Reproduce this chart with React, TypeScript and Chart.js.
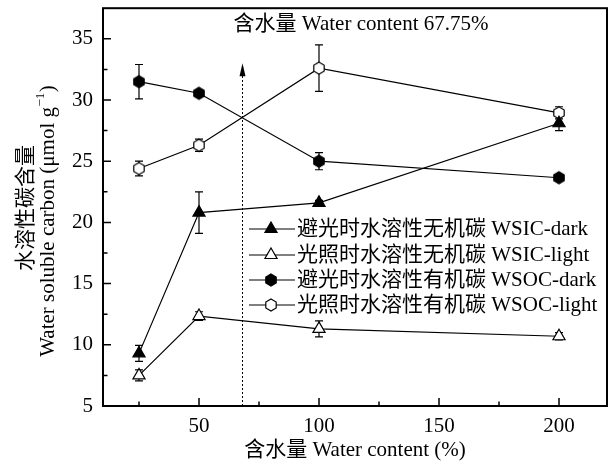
import React, { useEffect, useRef } from 'react';
import { Chart, registerables } from 'chart.js';

Chart.register(...registerables);

// ---------- data ----------
const waterContent = [25, 50, 100, 200];
const wsicDark = [9.3, 20.8, 21.6, 28.1];
const wsicDarkErr = [0.65, 1.7, 0.2, 0.6];
const wsicLight = [7.5, 12.35, 11.3, 10.7];
const wsicLightErr = [0.45, 0.35, 0.65, 0.3];
const wsocDark = [31.5, 30.55, 25.0, 23.65];
const wsocDarkErr = [1.4, 0.15, 0.7, 0.1];
const wsocLight = [24.4, 26.3, 32.6, 28.95];
const wsocLightErr = [0.6, 0.5, 1.9, 0.5];

const seriesLabels = [
  '避光时水溶性无机碳 WSIC-dark',
  '光照时水溶性无机碳 WSIC-light',
  '避光时水溶性有机碳 WSOC-dark',
  '光照时水溶性有机碳 WSOC-light',
];

const xTicks = [50, 100, 150, 200];
const xMinorTicks = [25, 75, 125, 175];
const yTicks = [5, 10, 15, 20, 25, 30, 35];
const yMinorTicks = [7.5, 12.5, 17.5, 22.5, 27.5, 32.5];

const markerWater = 67.75;
const arrowTipValue = 33.0;
const annotationText = '含水量 Water content 67.75%';
const xTitle = '含水量 Water content (%)';
const yTitleCn = '水溶性碳含量';
const yTitleEn = 'Water soluble carbon (μmol g';

const FONT = '"Liberation Serif", "Times New Roman", "Noto Sans CJK SC", serif';

function hexCanvas(r: number, filled: boolean): HTMLCanvasElement {
  const size = Math.ceil(2 * r + 4);
  const c = document.createElement('canvas');
  c.width = size;
  c.height = size;
  const ctx = c.getContext('2d')!;
  ctx.translate(size / 2, size / 2);
  ctx.beginPath();
  for (let i = 0; i < 6; i++) {
    const a = -Math.PI / 2 + (i * Math.PI) / 3;
    const px = r * Math.cos(a);
    const py = r * Math.sin(a);
    if (i === 0) ctx.moveTo(px, py);
    else ctx.lineTo(px, py);
  }
  ctx.closePath();
  ctx.fillStyle = filled ? '#000' : '#fff';
  ctx.fill();
  ctx.lineWidth = 1.2;
  ctx.strokeStyle = '#000';
  ctx.stroke();
  return c;
}

function drawTriangle(ctx: CanvasRenderingContext2D, x: number, y: number, r: number, filled: boolean) {
  ctx.beginPath();
  for (let i = 0; i < 3; i++) {
    const a = -Math.PI / 2 + (i * 2 * Math.PI) / 3;
    const px = x + r * Math.cos(a);
    const py = y + r * Math.sin(a);
    if (i === 0) ctx.moveTo(px, py);
    else ctx.lineTo(px, py);
  }
  ctx.closePath();
  ctx.fillStyle = filled ? '#000' : '#fff';
  ctx.fill();
  ctx.lineWidth = 1.2;
  ctx.strokeStyle = '#000';
  ctx.stroke();
}

export default function App() {
  const ref = useRef<HTMLCanvasElement>(null);

  useEffect(() => {
    document.body.style.margin = '0';
    const canvas = ref.current!;
    const hexFilled = hexCanvas(6, true);
    const hexHollow = hexCanvas(6, false);
    const TRI_R = 7;

    const values = [wsicDark, wsicLight, wsocDark, wsocLight];
    const errors = [wsicDarkErr, wsicLightErr, wsocDarkErr, wsocLightErr];
    const styles: any[] = ['triangle', 'triangle', hexFilled, hexHollow];
    const fills = ['#000', '#fff', '#000', '#fff'];

    const datasets = values.map((vals, k) => ({
      label: seriesLabels[k],
      data: waterContent.map((x, i) => ({ x, y: vals[i] })),
      borderColor: '#000',
      borderWidth: 1.2,
      backgroundColor: fills[k],
      pointStyle: styles[k],
      pointRadius: k < 2 ? TRI_R : 6,
      pointBorderColor: '#000',
      pointBackgroundColor: fills[k],
      pointBorderWidth: 1.2,
      tension: 0,
      fill: false,
    }));

    const deco = {
      id: 'deco',
      beforeDatasetsDraw(chart: any) {
        const ctx: CanvasRenderingContext2D = chart.ctx;
        const xs = chart.scales.x;
        const ys = chart.scales.y;
        ctx.save();
        // error bars
        ctx.strokeStyle = '#000';
        ctx.lineWidth = 1.2;
        values.forEach((vals, k) => {
          vals.forEach((v, i) => {
            const e = errors[k][i];
            const px = xs.getPixelForValue(waterContent[i]);
            const top = ys.getPixelForValue(v + e);
            const bot = ys.getPixelForValue(v - e);
            ctx.beginPath();
            ctx.moveTo(px, top);
            ctx.lineTo(px, bot);
            ctx.moveTo(px - 4, top);
            ctx.lineTo(px + 4, top);
            ctx.moveTo(px - 4, bot);
            ctx.lineTo(px + 4, bot);
            ctx.stroke();
          });
        });
        // dotted marker line with arrow
        const mx = Math.round(xs.getPixelForValue(markerWater)) + 0.5;
        const tip = ys.getPixelForValue(arrowTipValue);
        ctx.setLineDash([2, 2]);
        ctx.lineWidth = 1;
        ctx.beginPath();
        ctx.moveTo(mx, chart.chartArea.bottom);
        ctx.lineTo(mx, tip + 10);
        ctx.stroke();
        ctx.setLineDash([]);
        ctx.fillStyle = '#000';
        ctx.beginPath();
        ctx.moveTo(mx, tip);
        ctx.lineTo(mx - 3, tip + 13);
        ctx.lineTo(mx + 3, tip + 13);
        ctx.closePath();
        ctx.fill();
        ctx.restore();
      },
      afterDraw(chart: any) {
        const ctx: CanvasRenderingContext2D = chart.ctx;
        const xs = chart.scales.x;
        const ys = chart.scales.y;
        const { left, right, top, bottom } = chart.chartArea;
        ctx.save();
        ctx.strokeStyle = '#000';
        // ticks (inward)
        ctx.lineWidth = 1.5;
        ctx.beginPath();
        xTicks.forEach((v) => {
          const p = xs.getPixelForValue(v);
          ctx.moveTo(p, bottom);
          ctx.lineTo(p, bottom - 8);
        });
        xMinorTicks.forEach((v) => {
          const p = xs.getPixelForValue(v);
          ctx.moveTo(p, bottom);
          ctx.lineTo(p, bottom - 4.5);
        });
        yTicks.forEach((v) => {
          const p = ys.getPixelForValue(v);
          ctx.moveTo(left, p);
          ctx.lineTo(left + 8, p);
        });
        yMinorTicks.forEach((v) => {
          const p = ys.getPixelForValue(v);
          ctx.moveTo(left, p);
          ctx.lineTo(left + 4.5, p);
        });
        ctx.stroke();
        // frame
        ctx.lineWidth = 2;
        ctx.strokeRect(left, top, right - left, bottom - top);

        ctx.fillStyle = '#000';
        ctx.font = `21px ${FONT}`;
        ctx.textBaseline = 'middle';
        // annotation
        ctx.textAlign = 'center';
        ctx.fillText(annotationText, 361, 24);
        // x title
        ctx.fillText(xTitle, (left + right) / 2, 450);
        // y titles
        ctx.save();
        ctx.translate(26, 208);
        ctx.rotate(-Math.PI / 2);
        ctx.fillText(yTitleCn, 0, 0);
        ctx.restore();
        ctx.save();
        ctx.translate(48, 221);
        ctx.rotate(-Math.PI / 2);
        const wMain = ctx.measureText(yTitleEn).width;
        ctx.font = `13px ${FONT}`;
        const sup = '−1';
        const wSup = ctx.measureText(sup).width;
        ctx.font = `21px ${FONT}`;
        const wClose = ctx.measureText(')').width;
        const total = wMain + wSup + 1 + wClose;
        let cx = -total / 2;
        ctx.textAlign = 'left';
        ctx.fillText(yTitleEn, cx, 0);
        cx += wMain;
        ctx.font = `13px ${FONT}`;
        ctx.fillText(sup, cx + 0.5, -7);
        cx += wSup + 1;
        ctx.font = `21px ${FONT}`;
        ctx.fillText(')', cx, 0);
        ctx.restore();

        // legend
        const rows = [229, 255, 280, 305];
        rows.forEach((ry, k) => {
          ctx.lineWidth = 1.2;
          ctx.strokeStyle = '#000';
          ctx.beginPath();
          ctx.moveTo(249, ry);
          ctx.lineTo(295, ry);
          ctx.stroke();
          if (k < 2) {
            drawTriangle(ctx, 271, ry, TRI_R, k === 0);
          } else {
            const img = k === 2 ? hexFilled : hexHollow;
            ctx.drawImage(img, 271 - img.width / 2, ry - img.height / 2);
          }
          ctx.fillStyle = '#000';
          ctx.font = `21px ${FONT}`;
          ctx.textAlign = 'left';
          ctx.textBaseline = 'middle';
          ctx.fillText(seriesLabels[k], 297, ry);
        });
        ctx.restore();
      },
    };

    const chart = new Chart(canvas, {
      type: 'line',
      data: { datasets: datasets as any },
      options: {
        animation: false,
        responsive: false,
        maintainAspectRatio: false,
        layout: { padding: { top: 5, right: 9, left: 0, bottom: 0 } },
        plugins: {
          legend: { display: false },
          tooltip: { enabled: false },
        },
        scales: {
          x: {
            type: 'linear',
            min: 10,
            max: 220,
            grid: { display: false, drawTicks: false },
            border: { display: false },
            ticks: {
              color: '#000',
              font: { family: FONT, size: 21 },
              padding: 8,
              maxRotation: 0,
            },
            afterBuildTicks: (s: any) => {
              s.ticks = xTicks.map((v) => ({ value: v }));
            },
            afterFit: (s: any) => {
              s.height = 60;
              s.paddingLeft = 0;
              s.paddingRight = 0;
            },
          },
          y: {
            type: 'linear',
            min: 5,
            max: 37.5,
            grid: { display: false, drawTicks: false },
            border: { display: false },
            ticks: {
              color: '#000',
              font: { family: FONT, size: 21 },
              padding: 10,
            },
            afterBuildTicks: (s: any) => {
              s.ticks = yTicks.map((v) => ({ value: v }));
            },
            afterFit: (s: any) => {
              s.width = 103;
              s.paddingTop = 0;
              s.paddingBottom = 0;
            },
          },
        },
      },
      plugins: [deco],
    });

    return () => chart.destroy();
  }, []);

  return (
    <div style={{ position: 'absolute', left: 0, top: 0, width: 616, height: 466, background: '#fff' }}>
      <canvas ref={ref} width={616} height={466} style={{ display: 'block', width: 616, height: 466 }} />
    </div>
  );
}
